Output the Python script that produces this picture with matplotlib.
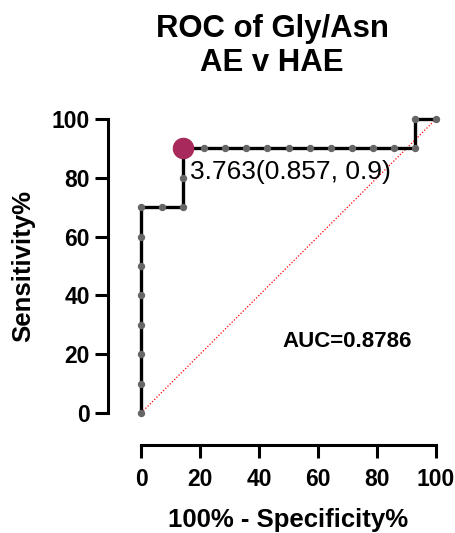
import matplotlib
matplotlib.use("Agg")
import matplotlib.pyplot as plt

plt.rcParams['font.family'] = ['Liberation Sans', 'DejaVu Sans']

# ROC data (100% - Specificity%, Sensitivity%)
fpr = [0, 0, 0, 0, 0, 0, 0, 0, 7.14, 14.29, 14.29, 14.29, 21.43, 28.57, 35.71,
       42.86, 50.0, 57.14, 64.29, 71.43, 78.57, 85.71, 92.86, 92.86, 100]
tpr = [0, 10, 20, 30, 40, 50, 60, 70, 70, 70, 80, 90, 90, 90, 90,
       90, 90, 90, 90, 90, 90, 90, 90, 100, 100]
best_x = 14.29
best_y = 90
cutoff = "3.763"
best_spec = "0.857"
best_sens = "0.9"
auc = "0.8786"
xticks = [0, 20, 40, 60, 80, 100]
yticks = [0, 20, 40, 60, 80, 100]

W, H = 456, 533
fig = plt.figure(figsize=(W / 100, H / 100), dpi=100)
ax = fig.add_axes([141 / W, 1 - 413 / H, (436 - 141) / W, (413 - 119) / H])
ax.set_xlim(0, 100)
ax.set_ylim(0, 100)

# reference diagonal
ax.plot([0, 100], [0, 100], color='red', lw=0.9, ls=(0, (1, 1.5)), zorder=1, clip_on=False)
# step ROC line
ax.plot(fpr, tpr, color='black', lw=2.4, zorder=2, clip_on=False, solid_joinstyle='miter')
ax.plot(fpr, tpr, ls='none', marker='o', ms=4.3, color='#666666', zorder=3, clip_on=False)
# best cutoff point
ax.plot([best_x], [best_y], ls='none', marker='o', ms=14.5, color='#A8295B', zorder=4, clip_on=False)
ax.text(16.6, 79.7, f"{cutoff}({best_spec}, {best_sens})", fontsize=19,
        va='baseline', ha='left', zorder=5)
ax.text(48.1, 22.5, f"AUC={auc}", fontsize=16, fontweight='bold',
        va='baseline', ha='left')

px = 72 / 100  # points per pixel
for s in ['top', 'right']:
    ax.spines[s].set_visible(False)
ax.spines['left'].set_position(('outward', 33 * px))
ax.spines['bottom'].set_position(('outward', 32 * px))
for s in ['left', 'bottom']:
    ax.spines[s].set_linewidth(2.2)
    ax.spines[s].set_capstyle('projecting')

ax.set_xticks(xticks)
ax.set_yticks(yticks)
ax.tick_params(axis='both', width=2.2, length=13 * px, labelsize=16.5)
ax.tick_params(axis='x', pad=10 * px)
ax.tick_params(axis='y', pad=5 * px)
for lab in ax.get_xticklabels() + ax.get_yticklabels():
    lab.set_fontweight('bold')

ax.set_xlabel("100% - Specificity%", fontsize=18.5, fontweight='bold', labelpad=17 * px)
ax.set_ylabel("Sensitivity%", fontsize=18.5, fontweight='bold', labelpad=17 * px)

fig.text(272 / W, 1 - 37 / H, "ROC of Gly/Asn", fontsize=22.4, fontweight='bold',
         ha='center', va='baseline')
fig.text(272 / W, 1 - 71 / H, "AE v HAE", fontsize=22.4, fontweight='bold',
         ha='center', va='baseline')

fig.savefig("out.png", dpi=100)
